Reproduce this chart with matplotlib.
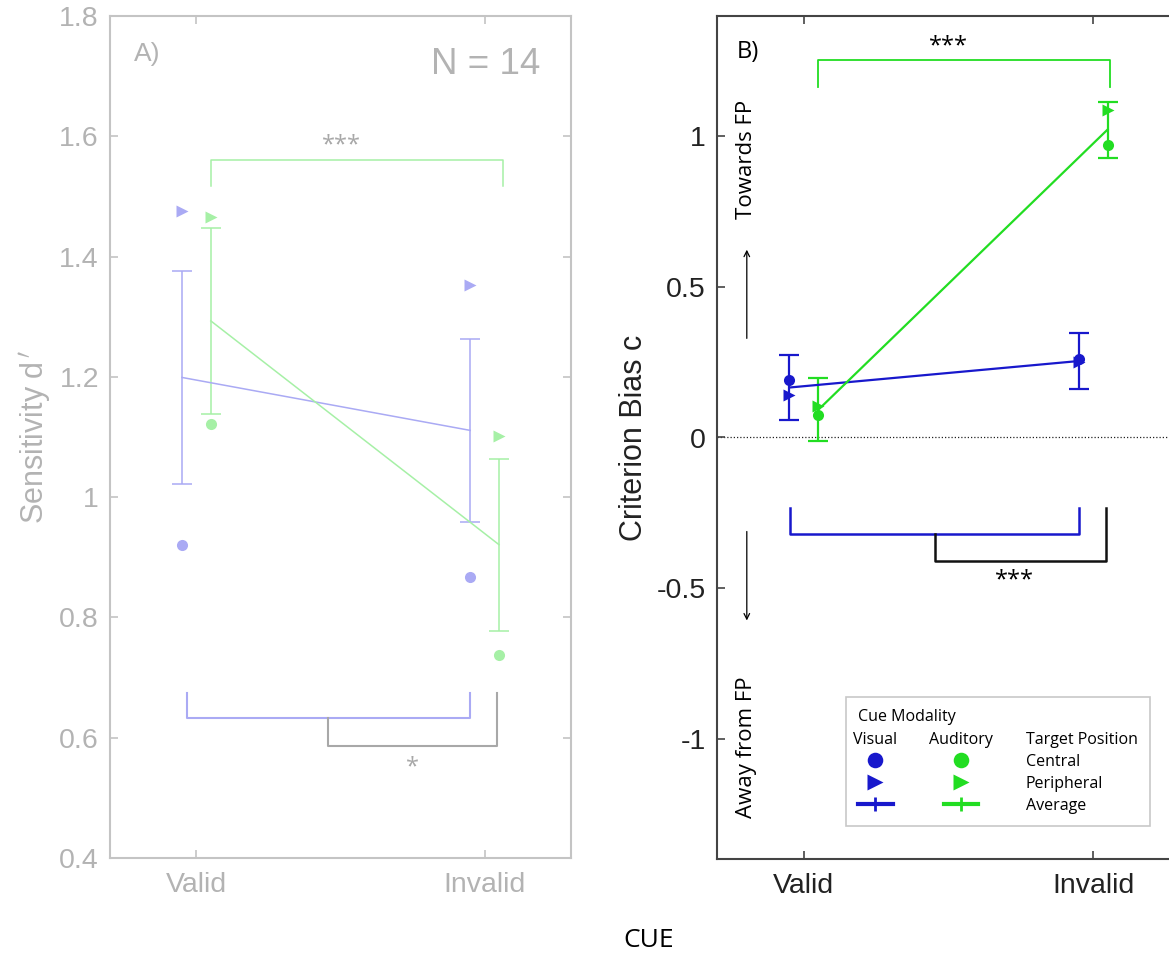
import matplotlib
matplotlib.use("Agg")
import matplotlib.pyplot as plt
from matplotlib.ticker import FormatStrFormatter
from matplotlib.legend_handler import HandlerBase, HandlerTuple
from matplotlib.lines import Line2D
from matplotlib.text import Text
import numpy as np

plt.rcParams['font.family'] = ['Liberation Sans', 'DejaVu Sans']

# data
cues = ['Valid', 'Invalid']

# A) sensitivity d'
dp_vis_central = [0.921, 0.868]
dp_vis_periph = [1.476, 1.353]
dp_vis_mean = [1.199, 1.111]
dp_vis_err = [0.177, 0.152]
dp_aud_central = [1.122, 0.737]
dp_aud_periph = [1.465, 1.102]
dp_aud_mean = [1.293, 0.921]
dp_aud_err = [0.155, 0.143]

# B) criterion bias c
c_vis_central = [0.19, 0.26]
c_vis_periph = [0.14, 0.25]
c_vis_mean = [0.166, 0.254]
c_vis_err = [0.107, 0.094]
c_aud_central = [0.074, 0.97]
c_aud_periph = [0.104, 1.087]
c_aud_mean = [0.092, 1.023]
c_aud_err = [0.105, 0.093]

# significance brackets (x, y)
a_top_x, a_top_y = [1.05, 1.05, 2.065, 2.065], [1.518, 1.561, 1.561, 1.518]
a_vis_x, a_vis_y = [0.966, 0.966, 1.948, 1.948], [0.675, 0.632, 0.632, 0.675]
a_int_x, a_int_y = [1.457, 1.457, 2.043, 2.043], [0.632, 0.586, 0.586, 0.674]
b_top_x, b_top_y = [1.05, 1.05, 2.059, 2.059], [1.163, 1.253, 1.253, 1.163]
b_vis_x, b_vis_y = [0.952, 0.952, 1.952, 1.952], [-0.233, -0.32, -0.32, -0.233]
b_int_x, b_int_y = [1.452, 1.452, 2.045, 2.045], [-0.32, -0.41, -0.41, -0.233]

MYR = ['Open Sans', 'DejaVu Sans']
GREY = '#b3b3b3'
A_BLUE, A_GREEN = '#aaaaf4', '#a6f0a6'
B_BLUE, B_GREEN = '#1818cc', '#22dd22'
dx = 0.05
x = np.arange(1, len(cues) + 1)

W, H = 1169, 955
fig = plt.figure(figsize=(W / 100, H / 100), dpi=100)
axA = fig.add_axes([110 / W, 1 - 858 / H, 461 / W, 842 / H])
axB = fig.add_axes([717 / W, 1 - 859 / H, 463 / W, 843 / H])


def style(ax, col, lab_col):
    ax.set_xlim(0.7, 2.3)
    ax.set_xticks(x)
    ax.set_xticklabels(cues)
    ax.yaxis.set_major_formatter(FormatStrFormatter('%g'))
    ax.tick_params(direction='in', length=6, width=1.2, color=col,
                   labelcolor=lab_col, labelsize=20.5, top=True, right=True)
    ax.tick_params(axis='x', pad=10)
    ax.tick_params(axis='y', pad=8)
    for s in ax.spines.values():
        s.set_color(col)
        s.set_linewidth(1.5)


# ---- panel A ----
ax = axA
ax.errorbar(x - dx, dp_vis_mean, yerr=dp_vis_err, color=A_BLUE, lw=1.1,
            capsize=7, capthick=1.1)
ax.errorbar(x + dx, dp_aud_mean, yerr=dp_aud_err, color=A_GREEN, lw=1.1,
            capsize=7, capthick=1.1)
ax.plot(x - dx, dp_vis_central, 'o', color=A_BLUE, ms=8, mec='none')
ax.plot(x - dx, dp_vis_periph, '>', color=A_BLUE, ms=8, mec='none')
ax.plot(x + dx, dp_aud_central, 'o', color=A_GREEN, ms=8, mec='none')
ax.plot(x + dx, dp_aud_periph, '>', color=A_GREEN, ms=8, mec='none')
ax.plot(a_top_x, a_top_y, color=A_GREEN, lw=1.1)
ax.plot(a_vis_x, a_vis_y, color=A_BLUE, lw=1.5)
ax.plot(a_int_x, a_int_y, color='#a8a8a8', lw=1.5)
ax.text(1.505, 1.585, '***', color='#a8a8a8', fontsize=17, ha='center',
        va='center', family=MYR)
ax.text(1.749, 0.55, '*', color='#a8a8a8', fontsize=17, ha='center',
        va='center', family=MYR)
ax.text(0.783, 1.737, 'A)', color=GREY, fontsize=19, ha='left', va='center')
ax.text(2.193, 1.72, 'N = 14', color=GREY, fontsize=26.5, ha='right', va='center')
ax.set_ylim(0.4, 1.8)
ax.set_yticks(np.arange(0.4, 1.81, 0.2))
style(ax, '#c4c4c4', GREY)
ax.set_ylabel("Sensitivity d$^{\\,\\prime}$", color=GREY, fontsize=22)
ax.yaxis.set_label_coords(-0.123, 0.5)

# ---- panel B ----
ax = axB
ax.axhline(0, color='#222222', lw=0.9, ls=(0, (1, 1.6)), zorder=1)
ax.errorbar(x - dx, c_vis_mean, yerr=c_vis_err, color=B_BLUE, lw=1.6,
            capsize=7.5, capthick=1.6)
ax.errorbar(x + dx, c_aud_mean, yerr=c_aud_err, color=B_GREEN, lw=1.6,
            capsize=7.5, capthick=1.6)
vc, = ax.plot(x - dx, c_vis_central, 'o', color=B_BLUE, ms=8, mec='none')
vp, = ax.plot(x - dx, c_vis_periph, '>', color=B_BLUE, ms=8, mec='none')
ac, = ax.plot(x + dx, c_aud_central, 'o', color=B_GREEN, ms=8, mec='none')
ap, = ax.plot(x + dx, c_aud_periph, '>', color=B_GREEN, ms=8, mec='none')
ax.plot(b_top_x, b_top_y, color=B_GREEN, lw=1.3)
ax.plot(b_vis_x, b_vis_y, color=B_BLUE, lw=1.8)
ax.plot(b_int_x, b_int_y, color='#111111', lw=1.8)
ax.text(1.5, 1.30, '***', fontsize=17, ha='center', va='center', family=MYR)
ax.text(1.728, -0.475, '***', fontsize=17, ha='center', va='center', family=MYR)
ax.text(0.769, 1.279, 'B)', fontsize=17, ha='left', va='center', family=MYR)
ax.text(0.803, 0.924, 'Towards FP', rotation=90, fontsize=16, ha='center',
        va='center', family=MYR)
ax.text(0.803, -1.03, 'Away from FP', rotation=90, fontsize=16, ha='center',
        va='center', family=MYR)
ax.annotate('', xy=(0.803, 0.633), xytext=(0.803, 0.32),
            arrowprops=dict(arrowstyle='->', lw=0.9, color='k'))
ax.annotate('', xy=(0.803, -0.617), xytext=(0.803, -0.303),
            arrowprops=dict(arrowstyle='->', lw=0.9, color='k'))
ax.set_ylim(-1.4, 1.4)
ax.set_yticks([-1, -0.5, 0, 0.5, 1])
style(ax, '#444444', '#222222')
ax.set_ylabel('Criterion Bias c', fontsize=22, color='#222222')
ax.yaxis.set_label_coords(-0.147, 0.5)


# legend with column headings
class Heads:
    def __init__(self, names):
        self.names = names


class HeadsHandler(HandlerBase):
    def __init__(self, pad):
        super().__init__()
        self.pad = pad

    def create_artists(self, legend, orig_handle, xdescent, ydescent, width,
                       height, fontsize, trans):
        pad = self.pad * fontsize
        w = (width - pad) / 2
        out = []
        for i, s in enumerate(orig_handle.names):
            out.append(Text(-xdescent + i * (w + pad) + w / 2, -ydescent + height / 2 - 1.5,
                            s, ha='center', va='center', fontsize=fontsize,
                            family=MYR, transform=trans))
        return out


va = Line2D([], [], color=B_BLUE, lw=3, marker='|', ms=7, mew=2)
aa = Line2D([], [], color=B_GREEN, lw=3, marker='|', ms=7, mew=2)
tup = HandlerTuple(ndivide=None, pad=3.2)
leg = ax.legend([Heads(['Visual', 'Auditory']), (vc, ac), (vp, ap), (va, aa)],
                ['Target Position', 'Central', 'Peripheral', 'Average'],
                handler_map={Heads: HeadsHandler(3.2), tuple: tup},
                title='Cue Modality', alignment='left',
                prop={'family': MYR, 'size': 11.5},
                title_fontproperties={'family': MYR, 'size': 11.5},
                loc='lower left', bbox_to_anchor=(0.262, 0.030),
                handlelength=7.5, handletextpad=3.0, labelspacing=0.38,
                borderpad=0.75, markerscale=1.4, fancybox=False, framealpha=1,
                edgecolor='#c8c8c8')
leg.get_frame().set_linewidth(1.2)

fig.text(649 / W, 1 - 940 / H, 'CUE', fontsize=19, ha='center', va='center',
         family=MYR)

fig.savefig('out.png', dpi=100)
